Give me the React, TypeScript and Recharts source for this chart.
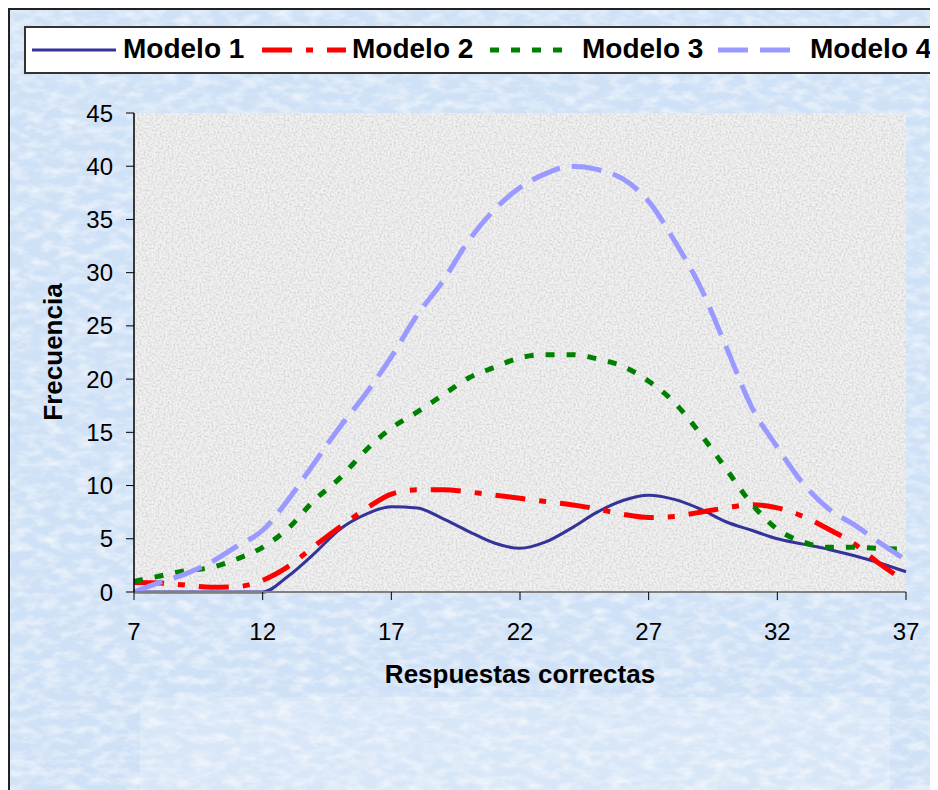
import { LineChart, Line, XAxis, YAxis, CartesianGrid, Label } from "recharts"

// Respuestas correctas (eje X)
const respuestas = [7, 8, 9, 10, 11, 12, 13, 14, 15, 16, 17, 18, 19, 20, 21, 22, 23, 24, 25, 26, 27, 28, 29, 30, 31, 32, 33, 34, 35, 36, 37]

const modelo1 = [0, 0, 0, 0, 0, 0, 1.5, 3.6, 5.9, 7.3, 8, 7.9, 6.9, 5.7, 4.6, 4.1, 4.7, 6, 7.5, 8.6, 9.1, 8.7, 7.8, 6.6, 5.8, 5, 4.5, 4, 3.4, 2.7, 1.9]
const modelo2 = [0.9, 0.85, 0.65, 0.45, 0.5, 1.1, 2.4, 4.3, 6.1, 7.8, 9.2, 9.6, 9.6, 9.4, 9.1, 8.8, 8.5, 8.2, 7.8, 7.3, 7, 7.1, 7.5, 7.9, 8.2, 7.9, 7.1, 5.9, 4.5, 2.6, 1]
const modelo3 = [1, 1.5, 2, 2.3, 3.1, 4.2, 6, 8.6, 10.7, 13.3, 15.4, 16.9, 18.5, 20.1, 21.1, 22, 22.3, 22.3, 21.9, 21.2, 19.8, 17.8, 14.9, 11.6, 8.3, 5.9, 4.7, 4.2, 4.2, 4.1, 4]
const modelo4 = [0, 0.9, 1.7, 2.8, 4.3, 5.8, 8.7, 12.1, 15.5, 18.6, 22.1, 26, 29.2, 33, 35.9, 38, 39.3, 40, 39.7, 38.8, 36.7, 33, 28.7, 23.1, 17.4, 13.6, 10.2, 7.8, 6.3, 4.6, 3]

const xTicks = [7, 12, 17, 22, 27, 32, 37]
const yTicks = [0, 5, 10, 15, 20, 25, 30, 35, 40, 45]

const data = respuestas.map((x, i) => ({
  x,
  m1: modelo1[i],
  m2: modelo2[i],
  m3: modelo3[i],
  m4: modelo4[i],
}))

const SERIES = [
  { key: "m1", name: "Modelo 1", color: "#333399", width: 3, dash: undefined },
  { key: "m2", name: "Modelo 2", color: "#ff0000", width: 5, dash: "30 14 7 14" },
  { key: "m3", name: "Modelo 3", color: "#008000", width: 5, dash: "9 12" },
  { key: "m4", name: "Modelo 4", color: "#9999ff", width: 5, dash: "30 12" },
]

// posiciones de muestra/texto dentro de la leyenda
const legendSampleX = [6, 236, 464, 692]
const legendTextX = [97, 326, 556, 784]

const FONT = "Arial, 'Liberation Sans', sans-serif"

// texturas de fondo (gris en el área de trazado, azul alrededor)
function Textures() {
  return (
    <svg width={0} height={0} style={{ position: "absolute" }}>
      <defs>
        <filter id="grainGray" x="0" y="0" width="100%" height="100%">
          <feTurbulence type="fractalNoise" baseFrequency="0.5" numOctaves={2} seed={3} />
          <feColorMatrix type="matrix" values="0 0 0 0 0.6  0 0 0 0 0.6  0 0 0 0 0.6  1.9 0 0 0 -0.7" />
        </filter>
        <filter id="grainWhite" x="0" y="0" width="100%" height="100%">
          <feTurbulence type="fractalNoise" baseFrequency="0.06 0.12" numOctaves={3} seed={7} />
          <feColorMatrix type="matrix" values="0 0 0 0 1  0 0 0 0 1  0 0 0 0 1  1.8 0 0 0 -0.7" />
        </filter>
        <pattern id="plotTex" patternUnits="userSpaceOnUse" width={256} height={256}>
          <rect width={256} height={256} fill="#f2f2f2" />
          <rect width={256} height={256} filter="url(#grainGray)" opacity={0.9} />
        </pattern>
      </defs>
    </svg>
  )
}

function LegendBox() {
  return (
    <div
      style={{
        position: "absolute",
        left: 14,
        top: 16,
        width: 930,
        height: 44,
        border: "2px solid #333",
        background: "#fff",
        fontFamily: FONT,
        fontWeight: "bold",
        fontSize: 28,
        color: "#000",
        whiteSpace: "nowrap",
      }}
    >
      {SERIES.map((s, i) => (
        <div key={s.key}>
          <svg width={84} height={12} style={{ position: "absolute", left: legendSampleX[i], top: 16 }}>
            <line x1={0} y1={6} x2={84} y2={6} stroke={s.color} strokeWidth={s.width} strokeDasharray={s.dash} />
          </svg>
          <span style={{ position: "absolute", left: legendTextX[i], top: 5, lineHeight: "32px" }}>{s.name}</span>
        </div>
      ))}
    </div>
  )
}

export default function App() {
  return (
    <div
      style={{
        position: "relative",
        width: 930,
        height: 782,
        border: "2px solid #222",
        background: "#cfe1f6",
        overflow: "hidden",
      }}
    >
      <Textures />
      <svg width={930} height={782} style={{ position: "absolute", left: 0, top: 0 }}>
        <rect width={930} height={782} filter="url(#grainWhite)" opacity={0.7} />
        <rect x={130} y={687} width={750} height={95} fill="#ffffff" opacity={0.2} />
      </svg>
      <div style={{ position: "absolute", left: 0, top: 0 }}>
        <LineChart width={930} height={782} data={data} margin={{ top: 103, right: 34, left: 34, bottom: 90 }}>
          <CartesianGrid horizontal={false} vertical={false} fill="url(#plotTex)" />
          <XAxis
            dataKey="x"
            type="number"
            domain={[7, 37]}
            ticks={xTicks}
            interval={0}
            height={110}
            axisLine={{ stroke: "#808080", strokeWidth: 2 }}
            tickLine={{ stroke: "#000" }}
            tickSize={8}
            tickMargin={23}
            tick={{ fill: "#000", fontSize: 24, fontFamily: FONT }}
          >
            <Label
              content={() => (
                <text x={510} y={664} textAnchor="middle" dominantBaseline="central" fontFamily={FONT} fontWeight="bold" fontSize={26} fill="#000">
                  Respuestas correctas
                </text>
              )}
            />
          </XAxis>
          <YAxis
            type="number"
            domain={[0, 45]}
            ticks={yTicks}
            interval={0}
            width={90}
            axisLine={{ stroke: "#000", strokeWidth: 1.5 }}
            tickLine={{ stroke: "#000" }}
            tickSize={8}
            tickMargin={13}
            tick={{ fill: "#000", fontSize: 24, fontFamily: FONT }}
          >
            <Label
              content={() => (
                <text x={43} y={342} transform="rotate(-90 43 342)" textAnchor="middle" dominantBaseline="central" fontFamily={FONT} fontWeight="bold" fontSize={26} fill="#000">
                  Frecuencia
                </text>
              )}
            />
          </YAxis>
          {SERIES.map((s) => (
            <Line
              key={s.key}
              type="monotone"
              dataKey={s.key}
              name={s.name}
              stroke={s.color}
              strokeWidth={s.width}
              strokeDasharray={s.dash}
              dot={false}
              activeDot={false}
              isAnimationActive={false}
            />
          ))}
        </LineChart>
      </div>
      <LegendBox />
    </div>
  )
}
